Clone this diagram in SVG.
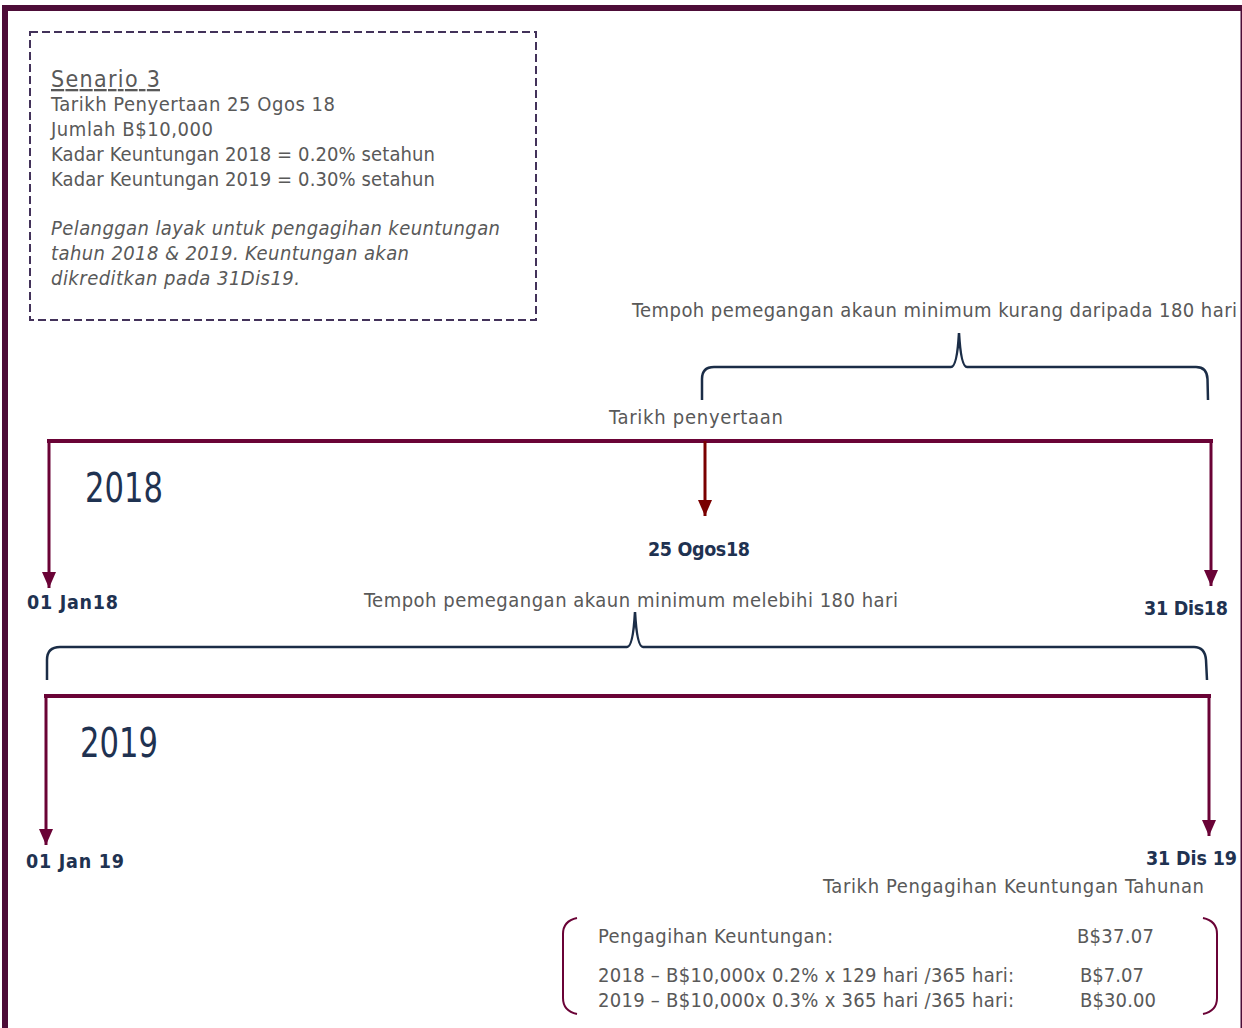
<svg xmlns="http://www.w3.org/2000/svg" width="1242" height="1028" viewBox="0 0 1242 1028">
<defs>
<style>
.t{font-family:"DejaVu Sans Condensed","DejaVu Sans","Liberation Sans",sans-serif;fill:#595959;font-size:20px}
.s{font-family:"DejaVu Sans Condensed","DejaVu Sans","Liberation Sans",sans-serif;fill:#595959;font-size:23px}
.b{font-family:"DejaVu Sans Condensed","DejaVu Sans","Liberation Sans",sans-serif;fill:#1f3251;font-size:19.5px;font-weight:bold}
.y{font-family:"DejaVu Sans Condensed","DejaVu Sans","Liberation Sans",sans-serif;fill:#1f3251;font-size:41px}
.tl{stroke:#6a0336;stroke-width:4;fill:none}
.ar{stroke:#6a0336;stroke-width:3;fill:none}
.br{stroke:#1b2d47;stroke-width:2.5;fill:none}
</style>
<marker id="mr" viewBox="0 0 14 16" refX="7" refY="16" markerWidth="14" markerHeight="16" markerUnits="userSpaceOnUse" orient="0">
<path d="M0 0 L14 0 L7 16 Z" fill="#7a0000"/>
</marker>
<marker id="md" viewBox="0 0 14 16" refX="7" refY="16" markerWidth="14" markerHeight="16" markerUnits="userSpaceOnUse" orient="0">
<path d="M0 0 L14 0 L7 16 Z" fill="#6a0336"/>
</marker>
</defs>
<rect x="0" y="0" width="1242" height="1028" fill="#ffffff"/>
<rect id="frame" x="5" y="8" width="1238.5" height="1040" fill="none" stroke="#4d0d38" stroke-width="6"/>

<g id="scenario">
<rect x="30" y="32" width="506" height="288" fill="none" stroke="#43325a" stroke-width="2" stroke-dasharray="8,4"/>
<text class="s" x="51" y="87" textLength="109" text-decoration="underline">Senario 3</text>
<text class="t" x="51" y="111" textLength="284">Tarikh Penyertaan 25 Ogos 18</text>
<text class="t" x="51" y="136" textLength="162">Jumlah B$10,000</text>
<text class="t" x="51" y="161" textLength="384">Kadar Keuntungan 2018 = 0.20% setahun</text>
<text class="t" x="51" y="186" textLength="384">Kadar Keuntungan 2019 = 0.30% setahun</text>
<text class="t" x="51" y="235" font-style="italic" textLength="449">Pelanggan layak untuk pengagihan keuntungan</text>
<text class="t" x="51" y="260" font-style="italic" textLength="358">tahun 2018 &amp; 2019. Keuntungan akan</text>
<text class="t" x="51" y="285" font-style="italic" textLength="249">dikreditkan pada 31Dis19.</text>
</g>

<g id="connectors">
<path class="br" d="M702 400 L702 379 Q702 367 714 367 L951 367 Q957 367 959 333 Q961 367 967 367 L1196 367 Q1207 367 1207.5 379 L1208 400"/>
<path class="br" d="M47 680 L47 660 Q47 647 60 647 L627 647 Q633 647 635 612 Q637 647 643 647 L1194 647 Q1205 647 1206 660 L1207 680"/>
<line class="tl" x1="47" y1="441" x2="1213" y2="441"/>
<line class="ar" x1="49" y1="441" x2="49" y2="588" marker-end="url(#md)"/>
<line x1="705" y1="441" x2="705" y2="516" stroke="#7a0000" stroke-width="3" marker-end="url(#mr)"/>
<line class="ar" x1="1211" y1="441" x2="1211" y2="586" marker-end="url(#md)"/>
<line class="tl" x1="44" y1="696" x2="1211" y2="696"/>
<line class="ar" x1="46" y1="698" x2="46" y2="845" marker-end="url(#md)"/>
<line class="ar" x1="1209" y1="696" x2="1209" y2="836" marker-end="url(#md)"/>
<path d="M577 918 Q563 921 563 934 L563 998 Q563 1011 577 1014" stroke="#6a0336" stroke-width="2" fill="none"/>
<path d="M1203 918 Q1217 921 1217 934 L1217 998 Q1217 1011 1203 1014" stroke="#6a0336" stroke-width="2" fill="none"/>
</g>

<g id="labels-2018">
<text class="t" x="632" y="317" textLength="605">Tempoh pemegangan akaun minimum kurang daripada 180 hari</text>
<text class="t" x="609" y="424" textLength="174">Tarikh penyertaan</text>
<text class="y" x="85" y="502" textLength="78" lengthAdjust="spacingAndGlyphs">2018</text>
<text class="b" x="648" y="556" textLength="102">25 Ogos18</text>
<text class="b" x="27" y="609" textLength="91">01 Jan18</text>
<text class="b" x="1144" y="615" textLength="84">31 Dis18</text>
</g>

<g id="labels-2019">
<text class="t" x="364" y="607" textLength="534">Tempoh pemegangan akaun minimum melebihi 180 hari</text>
<text class="y" x="80" y="757" textLength="78" lengthAdjust="spacingAndGlyphs">2019</text>
<text class="b" x="26" y="868" textLength="98">01 Jan 19</text>
<text class="b" x="1146" y="865" textLength="91">31 Dis 19</text>
<text class="t" x="823" y="893" textLength="381">Tarikh Pengagihan Keuntungan Tahunan</text>
</g>

<g id="calculation">
<text class="t" x="598" y="943" textLength="235">Pengagihan Keuntungan:</text>
<text class="t" x="1077" y="943" textLength="77">B$37.07</text>
<text class="t" x="598" y="982" textLength="416">2018 – B$10,000x 0.2% x 129 hari /365 hari:</text>
<text class="t" x="1080" y="982" textLength="64">B$7.07</text>
<text class="t" x="598" y="1007" textLength="416">2019 – B$10,000x 0.3% x 365 hari /365 hari:</text>
<text class="t" x="1080" y="1007" textLength="76">B$30.00</text>
</g>
</svg>
